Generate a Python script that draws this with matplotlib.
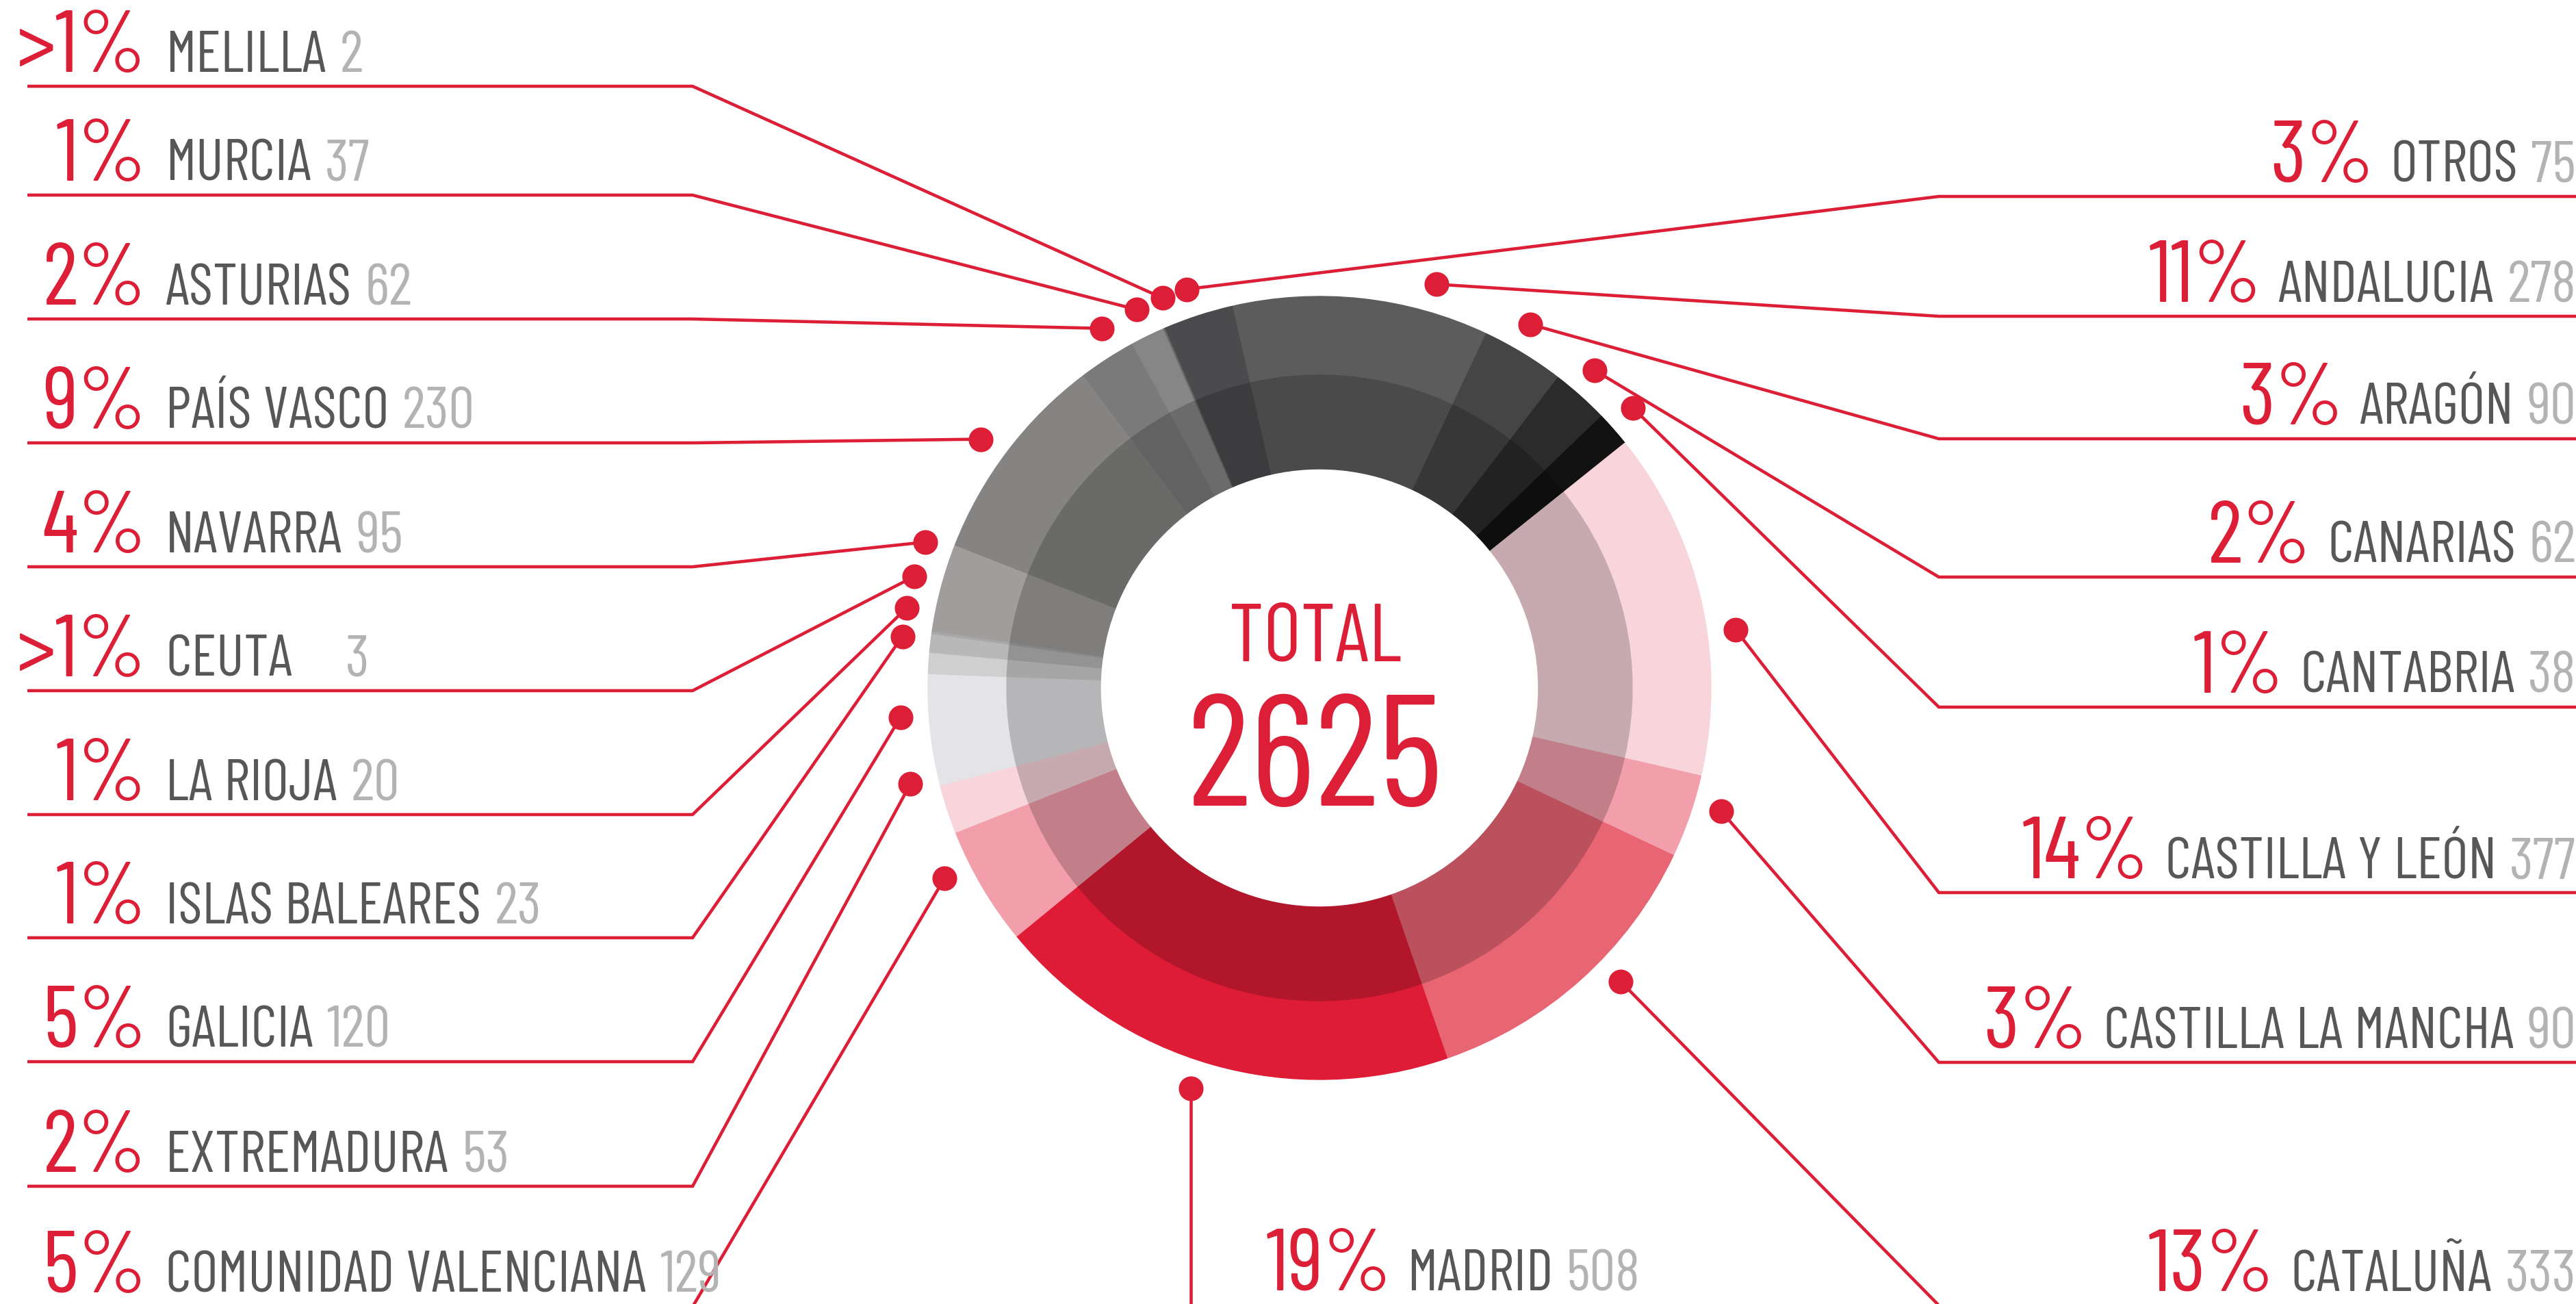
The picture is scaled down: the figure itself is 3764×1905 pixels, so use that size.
import numpy as np
import matplotlib
matplotlib.use('Agg')
import matplotlib.pyplot as plt
from matplotlib.colors import to_rgb

# --- datos (orden de los sectores, en sentido horario desde arriba) ---
regiones = ['ANDALUCIA', 'ARAGÓN', 'CANARIAS', 'CANTABRIA', 'CASTILLA Y LEÓN',
            'CASTILLA LA MANCHA', 'CATALUÑA', 'MADRID', 'COMUNIDAD VALENCIANA',
            'EXTREMADURA', 'GALICIA', 'ISLAS BALEARES', 'LA RIOJA', 'CEUTA',
            'NAVARRA', 'PAÍS VASCO', 'ASTURIAS', 'MURCIA', 'MELILLA', 'OTROS']
valores = [278, 90, 62, 38, 377, 90, 333, 508, 129, 53, 120, 23, 20, 3, 95, 230, 62, 37, 2, 75]
porcentajes = ['11%', '3%', '2%', '1%', '14%', '3%', '13%', '19%', '5%', '2%',
               '5%', '1%', '1%', '>1%', '4%', '9%', '2%', '1%', '>1%', '3%']
total = sum(valores)

# color del anillo exterior (el interior es el mismo oscurecido)
colores = ['#5c5c5c', '#454545', '#2b2b2b', '#121212', '#f8d4db', '#f29fab', '#e86574',
           '#de1c35', '#f29fab', '#f8d4db', '#e4e3e7', '#cfcfcf', '#b8b8b8', '#a8a8a8',
           '#a09d9c', '#858482', '#7a7a7a', '#868686', '#6a6a6a', '#4b4b4d']

# --- maquetación: lado, altura del subrayado, ajuste angular del punto (grados) ---
filas = {
    'MELILLA': ('izq', 126, 1.4), 'MURCIA': ('izq', 285, 0.2), 'ASTURIAS': ('izq', 466, 1.6),
    'PAÍS VASCO': ('izq', 647, -0.9), 'NAVARRA': ('izq', 828, 5.4), 'CEUTA': ('izq', 1009, 7.2),
    'LA RIOJA': ('izq', 1190, 4.4), 'ISLAS BALEARES': ('izq', 1370, 3.4),
    'GALICIA': ('izq', 1551, 2.1), 'EXTREMADURA': ('izq', 1733, 4.8),
    'COMUNIDAD VALENCIANA': ('izq', 1909, 3.6),
    'OTROS': ('der', 287, -0.4), 'ANDALUCIA': ('der', 462, 10.0), 'ARAGÓN': ('der', 641, -1.3),
    'CANARIAS': ('der', 843, -0.9), 'CANTABRIA': ('der', 1033, -0.5),
    'CASTILLA Y LEÓN': ('der', 1304, 4.9), 'CASTILLA LA MANCHA': ('der', 1552, -2.1),
    'CATALUÑA': ('der', 1907, -3.9), 'MADRID': ('abajo', 1906, 2.0),
}

W, H = 3764, 1905
CX, CY = 1928, 1005
R_EXT, R_MED, R_INT, R_PUNTO = 572, 457, 320, 614
ROJO = '#dc1e36'
GRIS = '#575757'
GRIS_CLARO = '#b3b3b3'
FUENTE = ['Barlow Condensed', 'DejaVu Sans']

fig = plt.figure(figsize=(W / 100, H / 100), dpi=100)
ax = fig.add_axes([0, 0, 1, 1])

# anillo exterior y anillo interior (más oscuro)
oscuros = [tuple(c * 0.8 for c in to_rgb(col)) for col in colores]
sect_ext, _ = ax.pie(valores, radius=R_EXT, center=(CX, CY), startangle=-102.9,
                     counterclock=True, colors=colores, wedgeprops=dict(width=R_EXT - R_MED))
sect_int, _ = ax.pie(valores, radius=R_MED, center=(CX, CY), startangle=-102.9,
                     counterclock=True, colors=oscuros, wedgeprops=dict(width=R_MED - R_INT))
for w in sect_ext + sect_int:
    w.set_edgecolor(w.get_facecolor())
    w.set_linewidth(1.0)

ax.set_xlim(0, W)
ax.set_ylim(H, 0)
ax.set_aspect('equal')
ax.axis('off')

renderer = fig.canvas.get_renderer()


def borde(t):
    bb = t.get_window_extent(renderer)
    return bb.x0, bb.x1


estilo_pct = dict(va='baseline', color=ROJO, fontsize=92, fontweight=400, family=FUENTE)
estilo_nom = dict(va='baseline', color=GRIS, fontsize=61, fontweight=400, family=FUENTE)
estilo_num = dict(va='baseline', color=GRIS_CLARO, fontsize=61, fontweight=400, family=FUENTE)
linea = dict(color=ROJO, lw=3.3, solid_joinstyle='miter', solid_capstyle='butt', zorder=3)

for i, nombre in enumerate(regiones):
    lado, yl, ajuste = filas[nombre]
    w = sect_ext[i]
    ang = np.deg2rad((w.theta1 + w.theta2) / 2 + ajuste)
    px = CX + R_PUNTO * np.cos(ang)
    py = CY + R_PUNTO * np.sin(ang)
    yb = yl - 21

    if lado == 'izq':
        ax.plot([40, 1012, px], [yl, yl, py], **linea)
        ax.text(214, yb, porcentajes[i], ha='right', **estilo_pct)
        tn = ax.text(242, yb, nombre, ha='left', **estilo_nom)
        extra = 58 if nombre == 'CEUTA' else 0
        ax.text(borde(tn)[1] + 20 + extra, yb, str(valores[i]), ha='left', **estilo_num)
    elif lado == 'der':
        ax.plot([W + 10, 2833, px], [yl, yl, py], **linea)
        tv = ax.text(3764, yb, str(valores[i]), ha='right', **estilo_num)
        tn = ax.text(borde(tv)[0] - 19, yb, nombre, ha='right', **estilo_nom)
        ax.text(borde(tn)[0] - 24, yb, porcentajes[i], ha='right', **estilo_pct)
    else:
        ax.plot([px, px], [py, H + 20], **linea)
        tp = ax.text(1850, yb, porcentajes[i], ha='left', **estilo_pct)
        tn = ax.text(borde(tp)[1] + 22, yb, nombre, ha='left', **estilo_nom)
        ax.text(borde(tn)[1] + 19, yb, str(valores[i]), ha='left', **estilo_num)

    ax.plot(px, py, 'o', ms=26, color=ROJO, mec='none', zorder=4)

# texto central
ax.text(1922, 966, 'TOTAL', ha='center', va='baseline', color=ROJO, fontsize=86,
        fontweight=400, family=FUENTE)
ax.text(1922, 1177, str(total), ha='center', va='baseline', color=ROJO, fontsize=166,
        fontweight=400, family=FUENTE)

fig.savefig('out.png', dpi=100)
